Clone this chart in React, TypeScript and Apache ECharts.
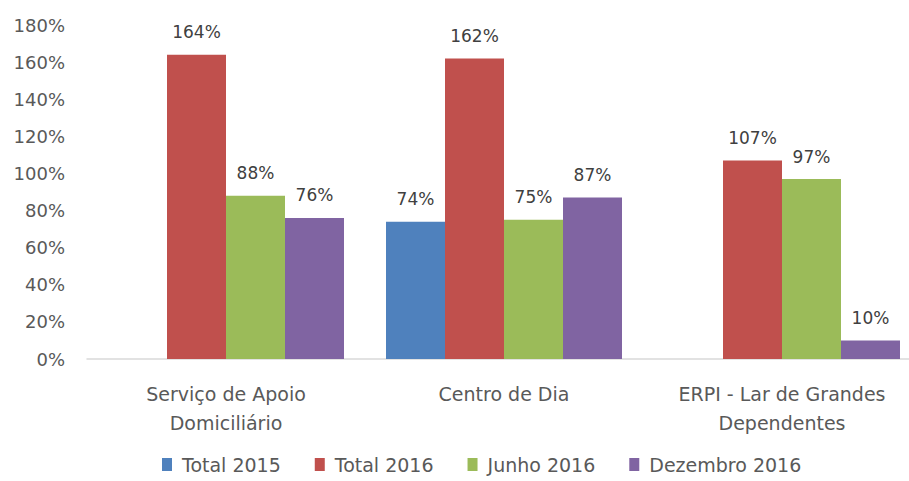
import React, { useEffect, useRef } from "react";
import * as echarts from "echarts";

const categories = ["Serviço de Apoio\nDomiciliário", "Centro de Dia", "ERPI - Lar de Grandes\nDependentes"];
const seriesNames = ["Total 2015", "Total 2016", "Junho 2016", "Dezembro 2016"];
const total2015 = [null, 74, null];
const total2016 = [164, 162, 107];
const junho2016 = [88, 75, 97];
const dezembro2016 = [76, 87, 10];
const colors = ["#4F81BD", "#C0504D", "#9BBB59", "#8064A2"];

const FONT = "DejaVu Sans";

export default function App() {
  const ref = useRef<HTMLDivElement>(null);
  useEffect(() => {
    if (!ref.current) return;
    const chart = echarts.init(ref.current, null, { renderer: "svg" });
    const data = [total2015, total2016, junho2016, dezembro2016];
    chart.setOption({
      animation: false,
      color: colors,
      grid: { left: 87, top: 25, width: 834, height: 334, containLabel: false, outerBoundsMode: "none" },
      legend: {
        data: seriesNames,
        bottom: 2,
        left: 157,
        itemWidth: 10,
        itemHeight: 13,
        itemGap: 34,
        icon: "rect",
        textStyle: { fontFamily: FONT, fontSize: 19, color: "#595959", padding: [0, 0, 0, 5] },
      },
      xAxis: {
        type: "category",
        data: categories,
        axisLine: { lineStyle: { color: "#D9D9D9", width: 1.5 } },
        axisTick: { show: false },
        axisLabel: {
          fontFamily: FONT,
          fontSize: 19,
          color: "#595959",
          lineHeight: 29,
          margin: 20,
        },
      },
      yAxis: {
        type: "value",
        min: 0,
        max: 180,
        interval: 20,
        splitLine: { show: false },
        axisLine: { show: false },
        axisTick: { show: false },
        axisLabel: {
          formatter: "{value}%",
          fontFamily: FONT,
          fontSize: 18,
          color: "#595959",
          margin: 22,
        },
      },
      series: seriesNames.map((name, i) => ({
        name,
        type: "bar",
        data: data[i],
        barWidth: 59,
        barGap: "0%",
        label: {
          show: true,
          position: "top",
          distance: 14,
          formatter: "{c}%",
          fontFamily: FONT,
          fontSize: 17,
          color: "#404040",
        },
      })),
    });
    return () => chart.dispose();
  }, []);
  return <div ref={ref} style={{ width: 909, height: 481, position: "absolute", left: 0, top: 0, background: "#fff" }} />;
}
